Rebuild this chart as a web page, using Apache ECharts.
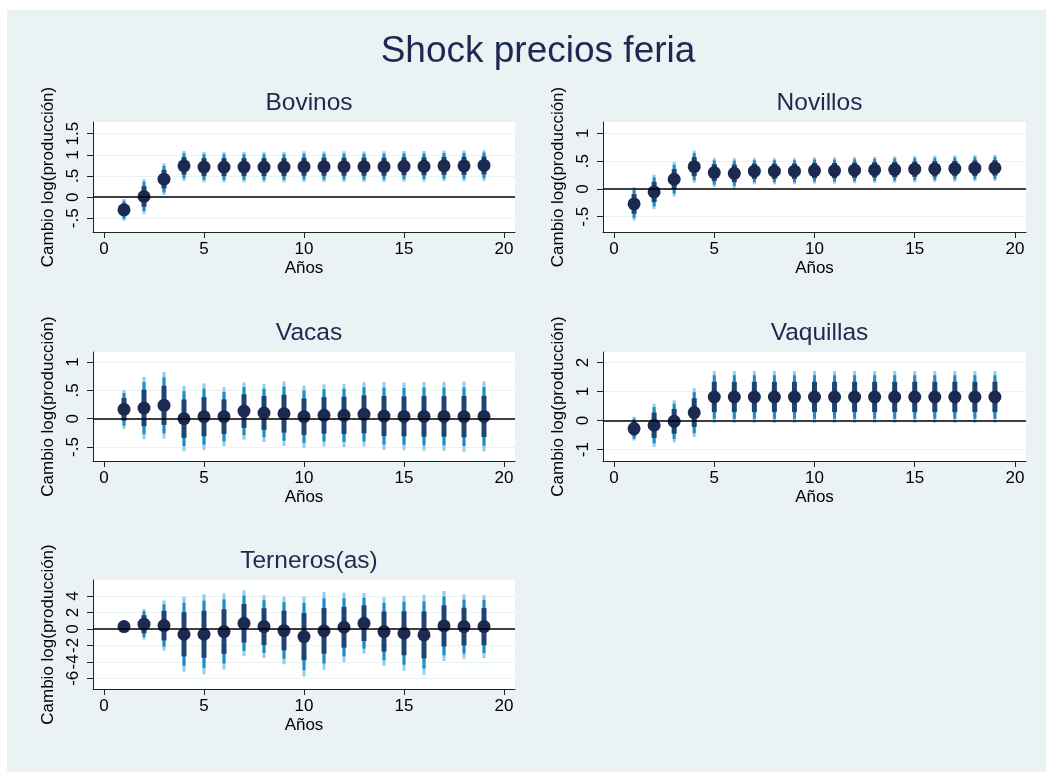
<!DOCTYPE html>
<html>
<head>
<meta charset="utf-8">
<script src="https://cdn.jsdelivr.net/npm/echarts@6/dist/echarts.min.js"></script>
<style>
  html, body { margin: 0; padding: 0; background: #fff; }
  #chart { width: 1047px; height: 773px; }
</style>
</head>
<body>
<div id="chart"></div>
<script>
// horizon (years after the shock)
const years = [1, 2, 3, 4, 5, 6, 7, 8, 9, 10, 11, 12, 13, 14, 15, 16, 17, 18, 19];
const xTicks = [0, 5, 10, 15, 20];

// point estimates and standard errors
const bovinosCoef = [-0.30, 0.015, 0.425, 0.74, 0.71, 0.71, 0.71, 0.71, 0.71, 0.72, 0.72, 0.72, 0.72, 0.72, 0.73, 0.73, 0.74, 0.74, 0.75];
const bovinosSe = [0.13, 0.21, 0.19, 0.18, 0.185, 0.185, 0.185, 0.185, 0.185, 0.185, 0.185, 0.185, 0.185, 0.185, 0.185, 0.185, 0.185, 0.185, 0.185];
const bovinosTicks = [-0.5, 0, 0.5, 1, 1.5];

const novillosCoef = [-0.27, -0.054, 0.174, 0.40, 0.293, 0.28, 0.318, 0.318, 0.318, 0.33, 0.33, 0.336, 0.342, 0.348, 0.354, 0.36, 0.366, 0.372, 0.378];
const novillosSe = [0.153, 0.158, 0.158, 0.148, 0.133, 0.138, 0.12, 0.12, 0.12, 0.12, 0.12, 0.12, 0.12, 0.12, 0.12, 0.12, 0.12, 0.12, 0.12];
const novillosTicks = [-0.5, 0, 0.5, 1];

const vacasCoef = [0.164, 0.187, 0.235, 0.0, 0.035, 0.035, 0.134, 0.10, 0.088, 0.035, 0.058, 0.058, 0.076, 0.046, 0.04, 0.04, 0.04, 0.035, 0.04];
const vacasSe = [0.175, 0.28, 0.30, 0.294, 0.30, 0.265, 0.258, 0.26, 0.29, 0.28, 0.28, 0.285, 0.29, 0.305, 0.305, 0.31, 0.31, 0.315, 0.315];
const vacasTicks = [-0.5, 0, 0.5, 1];

const vaquillasCoef = [-0.276, -0.16, -0.024, 0.276, 0.815, 0.815, 0.815, 0.815, 0.815, 0.815, 0.815, 0.815, 0.815, 0.815, 0.815, 0.815, 0.815, 0.815, 0.815];
const vaquillasSe = [0.21, 0.38, 0.37, 0.43, 0.455, 0.455, 0.455, 0.455, 0.455, 0.455, 0.455, 0.455, 0.455, 0.455, 0.455, 0.455, 0.455, 0.455, 0.455];
const vaquillasTicks = [-1, 0, 1, 2];

const ternerosCoef = [0.28, 0.57, 0.40, -0.65, -0.65, -0.32, 0.69, 0.28, -0.20, -0.93, -0.24, 0.20, 0.69, -0.32, -0.53, -0.73, 0.36, 0.28, 0.28];
const ternerosSe = [0.41, 0.95, 1.56, 2.33, 2.48, 2.36, 2.04, 1.94, 2.09, 2.48, 2.41, 2.15, 1.88, 2.12, 2.32, 2.48, 2.17, 1.99, 1.96];
const ternerosTicks = [-6, -4, -2, 0, 2, 4];

// confidence levels drawn (outer to inner): 95%, 90%, 75%
const zLevels = [1.96, 1.645, 1.15];

const chartInit = () => {
  const $chartEl = document.getElementById('chart');
  const chart = echarts.init($chartEl, null, { renderer: 'canvas' });

  const fontFamily = '"Liberation Sans", Arial, Helvetica, sans-serif';
  const navy = '#1C2A52';
  const levelColors = ['#93CDEA', '#1A8DCA', '#1E4471'];
  const levelWidths = [3, 3, 5];

  const panels = [
    { name: 'Bovinos', coef: bovinosCoef, se: bovinosSe, ticks: bovinosTicks, yMin: -0.824, yMax: 1.777, left: 93, top: 122, width: 422, height: 110 },
    { name: 'Novillos', coef: novillosCoef, se: novillosSe, ticks: novillosTicks, yMin: -0.775, yMax: 1.203, left: 603, top: 122, width: 423, height: 110 },
    { name: 'Vacas', coef: vacasCoef, se: vacasSe, ticks: vacasTicks, yMin: -0.747, yMax: 1.176, left: 93, top: 352, width: 422, height: 109 },
    { name: 'Vaquillas', coef: vaquillasCoef, se: vaquillasSe, ticks: vaquillasTicks, yMin: -1.393, yMax: 2.366, left: 603, top: 352, width: 423, height: 109 },
    { name: 'Terneros(as)', coef: ternerosCoef, se: ternerosSe, ticks: ternerosTicks, yMin: -7.3, yMax: 5.94, left: 93, top: 580, width: 422, height: 109 }
  ];

  const fmt = v => String(v).replace(/^(-?)0\./, '$1.');

  const grid = [];
  const xAxis = [];
  const yAxis = [];
  const series = [];
  const title = [
    {
      text: 'Shock precios feria',
      left: 533,
      top: 28,
      textAlign: 'center',
      textStyle: { color: navy, fontSize: 37, fontWeight: 'normal', fontFamily }
    }
  ];

  panels.forEach((p, i) => {
    grid.push({
      left: p.left, top: p.top, width: p.width, height: p.height,
      show: true, backgroundColor: '#fff', borderWidth: 0
    });
    title.push({
      text: p.name,
      left: p.left + p.width / 2,
      top: p.top - 36,
      textAlign: 'center',
      textStyle: { color: navy, fontSize: 24.5, fontWeight: 'normal', fontFamily }
    });
    xAxis.push({
      type: 'value', gridIndex: i, min: -0.55, max: 20.55,
      name: 'Años', nameLocation: 'middle', nameGap: 28,
      nameTextStyle: { color: '#000', fontSize: 17, fontFamily },
      axisLine: { show: true, onZero: false, lineStyle: { color: '#222', width: 1 } },
      axisTick: { show: true, length: 6, customValues: xTicks, lineStyle: { color: '#222' } },
      axisLabel: { customValues: xTicks, color: '#000', fontSize: 17, fontFamily, margin: 9 },
      splitLine: { show: false }
    });
    yAxis.push({
      type: 'value', gridIndex: i, min: p.yMin, max: p.yMax,
      name: 'Cambio log(producción)', nameLocation: 'middle', nameRotate: 90, nameGap: 36,
      nameTextStyle: { color: '#000', fontSize: 17, fontFamily },
      axisLine: { show: true, onZero: false, lineStyle: { color: '#222', width: 1 } },
      axisTick: { show: true, length: 6, customValues: p.ticks, lineStyle: { color: '#222' } },
      axisLabel: { customValues: p.ticks, rotate: 90, color: '#000', fontSize: 17, fontFamily, margin: 11, formatter: fmt },
      splitLine: { show: true, lineStyle: { color: '#EAF2F3', width: 1 } }
    });

    const ciData = years.map((x, k) => {
      const row = [x];
      zLevels.forEach(z => {
        row.push(p.coef[k] - z * p.se[k], p.coef[k] + z * p.se[k]);
      });
      return row;
    });

    series.push({
      type: 'custom',
      xAxisIndex: i,
      yAxisIndex: i,
      silent: true,
      z: 3,
      data: ciData,
      renderItem(params, api) {
        const x = api.value(0);
        const children = [];
        for (let k = 0; k < 3; k++) {
          const a = api.coord([x, api.value(1 + 2 * k)]);
          const b = api.coord([x, api.value(2 + 2 * k)]);
          children.push({
            type: 'line',
            shape: { x1: a[0], y1: a[1], x2: b[0], y2: b[1] },
            style: { stroke: levelColors[k], lineWidth: levelWidths[k], lineCap: 'butt' }
          });
        }
        return { type: 'group', children };
      },
      markLine: {
        silent: true,
        symbol: 'none',
        label: { show: false },
        lineStyle: { color: '#000', width: 1.6, type: 'solid' },
        data: [{ yAxis: 0 }]
      }
    });
    series.push({
      type: 'scatter',
      xAxisIndex: i,
      yAxisIndex: i,
      silent: true,
      z: 4,
      symbol: 'circle',
      symbolSize: 13,
      itemStyle: { color: navy, opacity: 1 },
      data: years.map((x, k) => [x, p.coef[k]])
    });
  });

  chart.setOption({
    animation: false,
    backgroundColor: '#fff',
    graphic: [
      {
        type: 'rect',
        z: -10,
        silent: true,
        shape: { x: 7, y: 10, width: 1039, height: 762 },
        style: { fill: '#EAF2F3' }
      }
    ],
    title,
    grid,
    xAxis,
    yAxis,
    series
  });
};

chartInit();
</script>
</body>
</html>
